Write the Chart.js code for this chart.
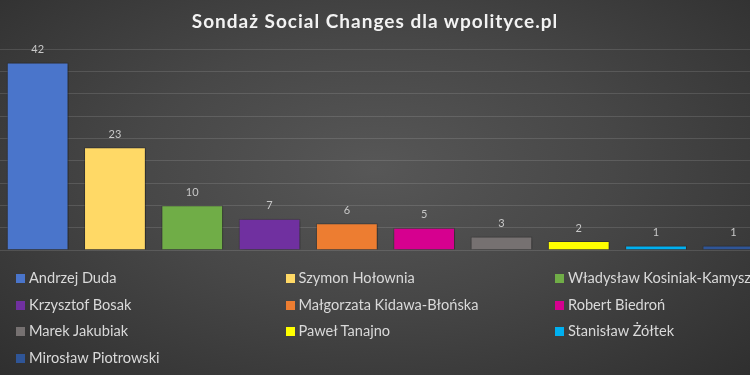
<!DOCTYPE html>
<html>
<head>
<meta charset="utf-8">
<script src="https://cdn.jsdelivr.net/npm/chart.js@4.4.1/dist/chart.umd.min.js"></script>
<style>
	html, body { margin: 0; padding: 0; }
	#wrap {
		position: relative;
		width: 750px;
		height: 375px;
		overflow: hidden;
		background: radial-gradient(ellipse at 50% 45%, #575757 0%, #474747 45%, #2f2f2f 100%);
		font-family: Lato, "Open Sans", sans-serif;
	}
	#title {
		position: absolute;
		left: 0; top: 9px; width: 750px;
		text-align: center;
		color: #f2f2f2;
		font-weight: bold;
		font-size: 19px;
		letter-spacing: 1px;
	}
	#chart-area { position: absolute; left: -1px; top: 0; }
	#legend {
		position: absolute;
		left: 16px; top: 268px;
		width: 740px;
	}
	.item {
		position: absolute;
		height: 20px;
		line-height: 20px;
		color: #d9d9d9;
		font-size: 14.6px;
		white-space: nowrap;
	}
	.item span.box {
		display: inline-block;
		width: 9px; height: 9px;
		margin-right: 4px;
		vertical-align: 0px;
	}
</style>
</head>
<body>
<div id="wrap">
	<canvas id="chart-area" width="773" height="375"></canvas>
	<div id="title">Sondaż Social Changes dla wpolityce.pl</div>
	<div id="legend"></div>
</div>
<script>
var candidates = [
	"Andrzej Duda",
	"Szymon Hołownia",
	"Władysław Kosiniak-Kamysz",
	"Krzysztof Bosak",
	"Małgorzata Kidawa-Błońska",
	"Robert Biedroń",
	"Marek Jakubiak",
	"Paweł Tanajno",
	"Stanisław Żółtek",
	"Mirosław Piotrowski"
];
var support = [42, 23, 10, 7, 6, 5, 3, 2, 1, 1];
var barColors = [
	'#4a75cb',
	'#ffd966',
	'#70ad47',
	'#7030a0',
	'#ed7d31',
	'#d6008f',
	'#767171',
	'#ffff00',
	'#00b0f0',
	'#2f5597'
];

// Build legend (3 columns, like the Excel one)
var legend = document.getElementById('legend');
candidates.forEach(function (name, i) {
	var item = document.createElement('div');
	item.className = 'item';
	item.style.left = (i % 3) * 269.5 + 'px';
	item.style.top = Math.floor(i / 3) * 26.5 + 'px';
	item.innerHTML = '<span class="box" style="background:' + barColors[i] + '"></span>' + name;
	legend.appendChild(item);
});

// value labels above the bars
var valueLabels = {
	id: 'valueLabels',
	afterDatasetsDraw: function (chart) {
		var ctx = chart.ctx;
		var meta = chart.getDatasetMeta(0);
		ctx.save();
		ctx.fillStyle = '#c8c8c8';
		ctx.font = '11px Lato, "Open Sans", sans-serif';
		ctx.textAlign = 'center';
		ctx.textBaseline = 'middle';
		meta.data.forEach(function (bar, i) {
			ctx.fillText(chart.data.datasets[0].data[i], bar.x, bar.y - 13);
		});
		ctx.restore();
	}
};

// soft shadow under bars
var barShadow = {
	id: 'barShadow',
	beforeDatasetsDraw: function (chart) {
		var ctx = chart.ctx;
		ctx.save();
		ctx.shadowColor = 'rgba(0,0,0,0.45)';
		ctx.shadowBlur = 4;
		ctx.shadowOffsetX = 1;
		ctx.shadowOffsetY = 1;
	},
	afterDatasetsDraw: function (chart) {
		chart.ctx.restore();
	}
};

var config = {
	type: 'bar',
	data: {
		labels: candidates,
		datasets: [{
			data: support,
			backgroundColor: barColors,
			borderColor: 'rgba(0,0,0,0.15)',
			borderWidth: 1,
			barPercentage: 0.8,
			categoryPercentage: 1
		}]
	},
	options: {
		responsive: false,
		animation: false,
		layout: {
			padding: { top: 49, bottom: 125, left: 0, right: 0 }
		},
		plugins: {
			legend: { display: false },
			title: { display: false },
			tooltip: { enabled: false }
		},
		scales: {
			x: {
				display: false,
				offset: true
			},
			y: {
				min: 0,
				max: 45,
				ticks: { display: false, stepSize: 5 },
				border: { display: false },
				grid: { color: 'rgba(255,255,255,0.12)', drawTicks: false }
			}
		}
	},
	plugins: [barShadow, valueLabels]
};

var ctx = document.getElementById('chart-area').getContext('2d');
var myBarChart = new Chart(ctx, config);
</script>
</body>
</html>
